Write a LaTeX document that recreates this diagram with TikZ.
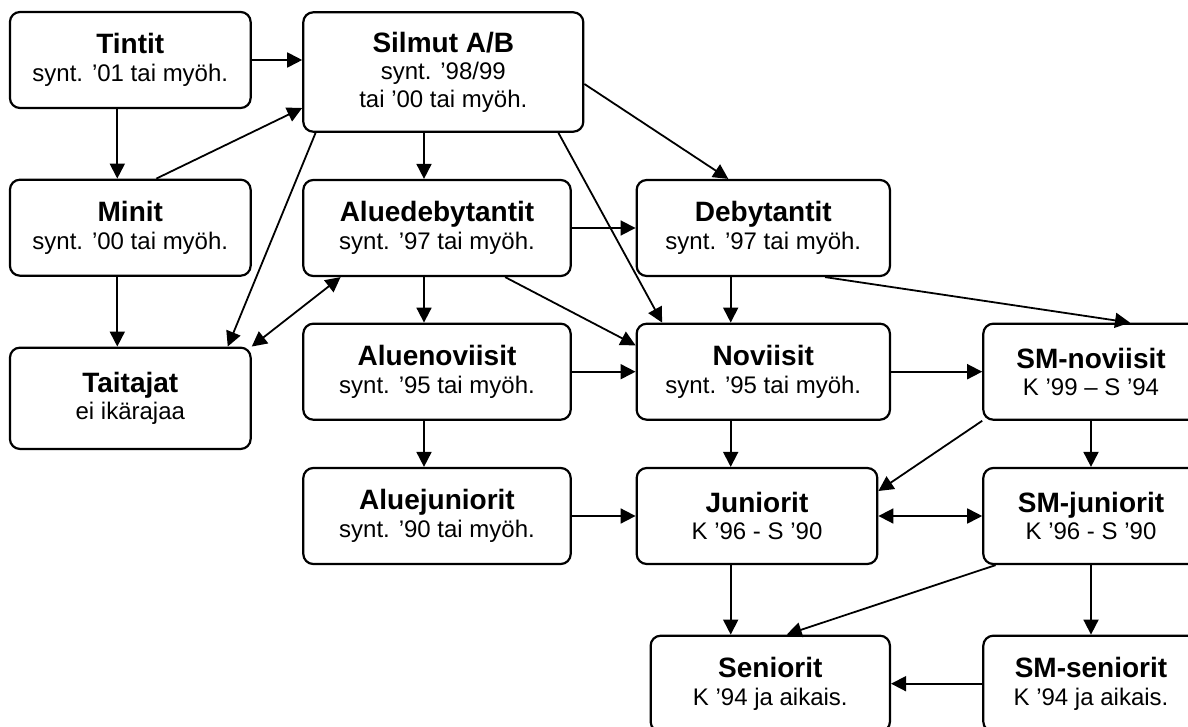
\documentclass[tikz,border=0pt]{standalone}
\usepackage{fontspec}
\setmainfont{Liberation Sans}
\usetikzlibrary{calc}
\usetikzlibrary{arrows.meta}

\newcommand{\boxtitle}[1]{{\fontsize{14pt}{13.7pt}\selectfont\bfseries #1}}

\begin{document}
\begin{tikzpicture}[x=0.5pt, y=-0.5pt]
            \useasboundingbox (0,0) rectangle (1188,727);

            \coordinate (c1) at (117.3,0);
            \coordinate (c2) at (424,0);
            \coordinate (c3) at (730.7,0);

            \begin{scope}[every node/.style={draw, rounded corners=5pt, line width=1.1pt, align=center, inner sep=0pt, minimum height=48pt, font=\fontsize{12pt}{13.7pt}\selectfont}]
                \node[minimum width=120.35pt] (tintit) at (130.3,60) {\boxtitle{Tintit}\\synt. ’01 tai myöh.};
                \node[minimum width=140pt, minimum height=59.7pt] (silmut) at (443.3,72) {\boxtitle{Silmut A/B}\\synt. ’98/99\\tai ’00 tai myöh.};
                \node[minimum width=120.35pt] (minit) at (130.3,227.7) {\boxtitle{Minit}\\synt. ’00 tai myöh.};
                \node[minimum width=133.7pt] (alued) at (437,228) {\boxtitle{Aluedebytantit}\\synt. ’97 tai myöh.};
                \node[minimum width=126.65pt] (deby) at (763.3,228) {\boxtitle{Debytantit}\\synt. ’97 tai myöh.};
                \node[minimum width=120.35pt, minimum height=50.65pt] (taitajat) at (130.3,398.3) {\boxtitle{Taitajat}\\ei ikärajaa};
                \node[minimum width=133.7pt] (aluenov) at (437,371.7) {\boxtitle{Aluenoviisit}\\synt. ’95 tai myöh.};
                \node[minimum width=126.65pt] (novi) at (763.3,371.7) {\boxtitle{Noviisit}\\synt. ’95 tai myöh.};
                \node[minimum width=107.7pt] (smnov) at (1091,371.7) {\boxtitle{SM-noviisit}\\K ’99 – S ’94};
                \node[minimum width=133.7pt] (aluejun) at (437,516) {\boxtitle{Aluejuniorit}\\synt. ’90 tai myöh.};
                \node[minimum width=120.3pt] (jun) at (757,516) {\boxtitle{Juniorit}\\K ’96 - S ’90};
                \node[minimum width=107.7pt] (smjun) at (1091,516) {\boxtitle{SM-juniorit}\\K ’96 - S ’90};
                \node[minimum width=119.65pt] (sen) at (770.3,683.7) {\boxtitle{Seniorit}\\K ’94 ja aikais.};
                \node[minimum width=107.7pt] (smsen) at (1091,683.7) {\boxtitle{SM-seniorit}\\K ’94 ja aikais.};
            \end{scope}

            \begin{scope}[>={Triangle[length=7.5pt,width=7.5pt]}, every edge/.style={draw=black, line width=0.9pt}]
                \path [->] (tintit.east) edge (tintit.east -| silmut.west);
                \path [->] (tintit.south -| c1) edge (minit.north -| c1);
                \path [->] (minit.south -| c1) edge (taitajat.north -| c1);
                \path [->] ($(minit.north)+(26,0)$) edge ($(silmut.west)+(0,36)$);
                \path [->] ($(silmut.south west)+(13.4,0)$) edge ($(taitajat.north east)+(-24,0)$);
                \path [<->] ($(alued.south west)+(38.4,0)$) edge (taitajat.north east);
                \path [->] (silmut.south -| c2) edge (alued.north -| c2);
                \path [->] (alued.south -| c2) edge (aluenov.north -| c2);
                \path [->] (aluenov.south -| c2) edge (aluejun.north -| c2);
                \path [->] ($(silmut.east)+(0,12)$) edge ($(deby.north)+(-35,0)$);
                \path [->] ($(silmut.south east)+(-26,0)$) edge ($(novi.north west)+(26.6,0)$);
                \path [->] ($(alued.south east)+(-66.7,0)$) edge ($(novi.north west)+(0,22.7)$);
                \path [->] (alued) edge (deby);
                \path [->] (aluenov) edge (novi);
                \path [->] (aluejun) edge (jun);
                \path [->] (deby.south -| c3) edge (novi.north -| c3);
                \path [->] (novi.south -| c3) edge (jun.north -| c3);
                \path [->] (jun.south -| c3) edge (sen.north -| c3);
                \path [->] ($(deby.south east)+(-66,0)$) edge ($(smnov.north)+(39,0)$);
                \path [->] (novi) edge (smnov);
                \path [->] (smnov.south west) edge ($(jun.east)+(0,-25)$);
                \path [->] (smnov) edge (smjun);
                \path [<->] (jun) edge (smjun);
                \path [->] ($(smjun.south west)+(13.4,0)$) edge ($(sen.north)+(16.4,0)$);
                \path [->] (smjun) edge (smsen);
                \path [->] (smsen) edge (sen);
            \end{scope}
        \end{tikzpicture}
\end{document}
